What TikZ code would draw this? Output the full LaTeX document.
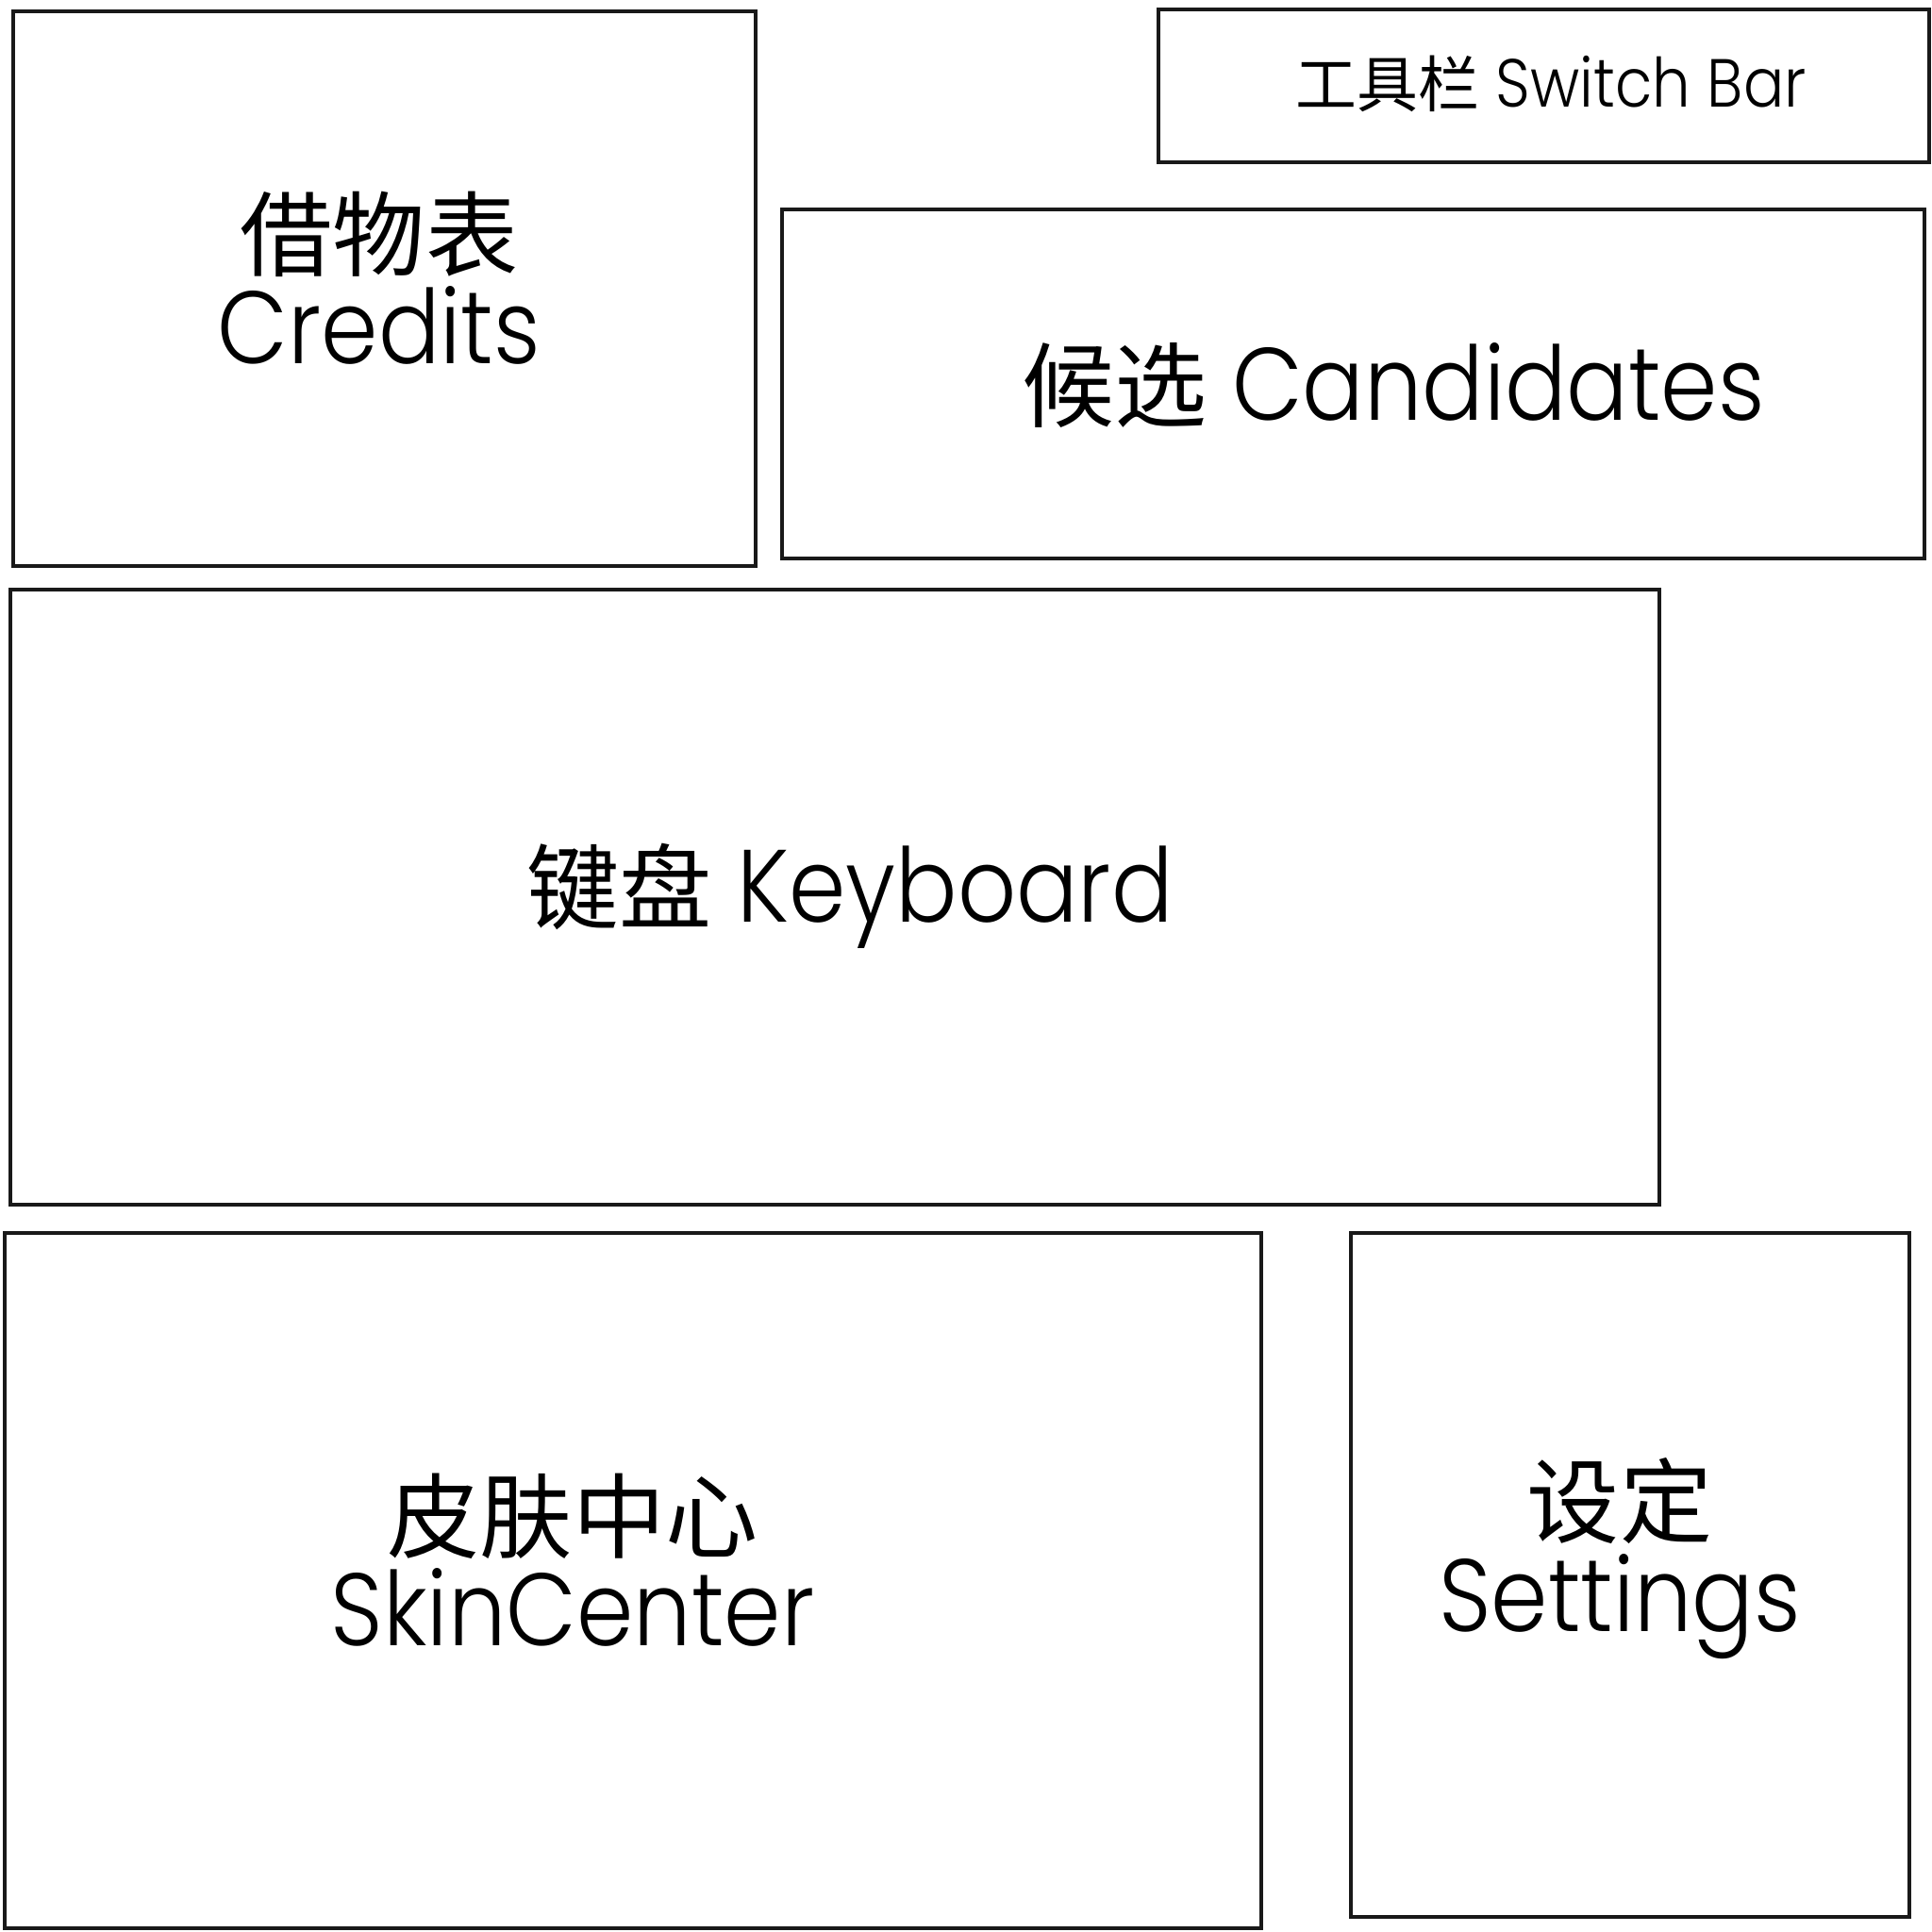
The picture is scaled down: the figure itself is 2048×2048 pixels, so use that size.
\documentclass[tikz,border=0pt]{standalone}
\usepackage{fontspec}
\setmainfont{Poppins}[UprightFont=* Light, FakeStretch=0.89]
\newfontfamily\cjk{Noto Sans CJK SC}[Scale=0.9]
\usetikzlibrary{fit}
\begin{document}
\begin{tikzpicture}[x=0.01cm,y=-0.01cm,
  box/.style={draw=black!90, line width=1.1pt, inner sep=0pt, rectangle},
  lbl/.style={align=center, inner sep=0pt, font=\fontsize{31}{28.5}\selectfont},
  small/.style={align=center, inner sep=0pt, font=\fontsize{20.5}{20}\selectfont}]
\useasboundingbox (0,0) rectangle (2048,2048);
\node[box, fit={(14,12) (801,600)}] (credits) {};
\node[box, fit={(1228,10) (2045,172)}] (switch) {};
\node[box, fit={(829,222) (2040,592)}] (cand) {};
\node[box, fit={(11,625) (1759,1277)}] (keyb) {};
\node[box, fit={(5,1307) (1337,2044)}] (skin) {};
\node[box, fit={(1432,1307) (2024,2032)}] (sett) {};
\node[lbl] (tcredits) at (402,295) {{\cjk 借物表}\\Credits};
\node[small] (tswitch) at (1644,89) {{\cjk 工具栏} Switch Bar};
\node[lbl] (tcand) at (1477,409) {{\cjk 候选} Candidates};
\node[lbl] (tkeyb) at (901,950) {{\cjk 键盘} Keyboard};
\node[lbl] (tskin) at (607,1654) {{\cjk 皮肤中心}\\SkinCenter};
\node[lbl] (tsett) at (1717,1652) {{\cjk 设定}\\Settings};
\end{tikzpicture}
\end{document}
